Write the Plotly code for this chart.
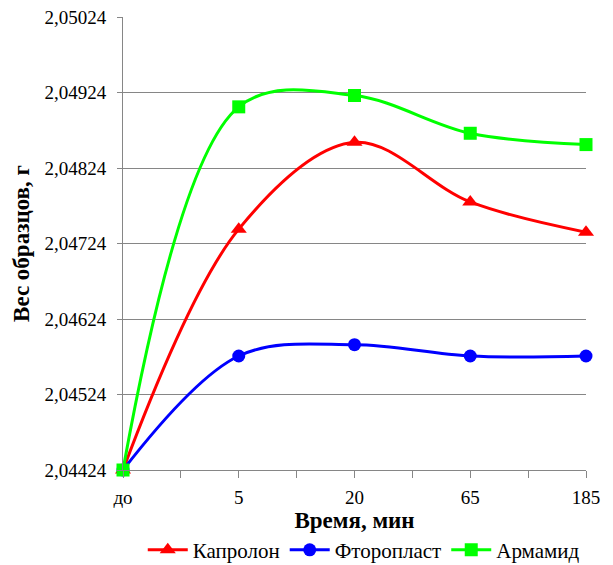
import plotly.graph_objects as go

# Sample weight over exposure time
categories = ["до", "5", "20", "65", "185"]
kaprolon = [2.04424, 2.04743, 2.04858, 2.04779, 2.04739]
ftoroplast = [2.04424, 2.04575, 2.04590, 2.04575, 2.04575]
armamid = [2.04424, 2.04905, 2.04920, 2.04870, 2.04855]
y_ticks = [2.04424, 2.04524, 2.04624, 2.04724, 2.04824, 2.04924, 2.05024]

xpos = list(range(len(categories)))
font_family = "Liberation Serif, Times New Roman, serif"

series = [
    ("Капролон", kaprolon, "#ff0000", "triangle-up", 14),
    ("Фторопласт", ftoroplast, "#0000ff", "circle", 13),
    ("Армамид", armamid, "#00ff00", "square", 13),
]

fig = go.Figure()
for name, vals, color, symbol, size in series:
    fig.add_trace(go.Scatter(
        x=xpos, y=vals, name=name, mode="lines+markers",
        line=dict(color=color, width=3, shape="spline", smoothing=1.0),
        marker=dict(color=color, symbol=symbol, size=size),
        cliponaxis=False,
    ))

fig.update_layout(
    width=613, height=565,
    margin=dict(l=123, r=27, t=17, b=95, autoexpand=False),
    paper_bgcolor="white", plot_bgcolor="white",
    separators=", ",
    font=dict(family=font_family, size=19, color="black"),
    showlegend=True,
    legend=dict(orientation="h", x=0.52, xanchor="center", y=-0.177, yanchor="middle",
                font=dict(size=21), itemwidth=40, traceorder="normal"),
    xaxis=dict(
        range=[0, 4], tickvals=xpos, ticktext=categories,
        showgrid=False, zeroline=False, automargin=False,
        showline=True, linecolor="#868686", linewidth=1,
        ticks="outside", ticklen=7, tickcolor="#868686",
        minor=dict(ticks="outside", dtick=0.5, tick0=0, ticklen=7, tickcolor="#868686"),
        ticklabelstandoff=3,
        title=dict(text="<b>Время, мин</b>", font=dict(size=23), standoff=1),
        tickfont=dict(size=19),
    ),
    yaxis=dict(
        range=[y_ticks[0], y_ticks[-1]], tickvals=y_ticks, tickformat=".5f",
        showgrid=True, gridcolor="#868686", gridwidth=1, automargin=False,
        zeroline=False, showline=True, linecolor="#868686", linewidth=1,
        ticks="outside", ticklen=5, tickcolor="#868686",
        ticklabelstandoff=7,
        title=dict(text="<b>Вес образцов, г</b>", font=dict(size=23), standoff=8),
        tickfont=dict(size=19),
    ),
)

fig.write_html("out.html")
